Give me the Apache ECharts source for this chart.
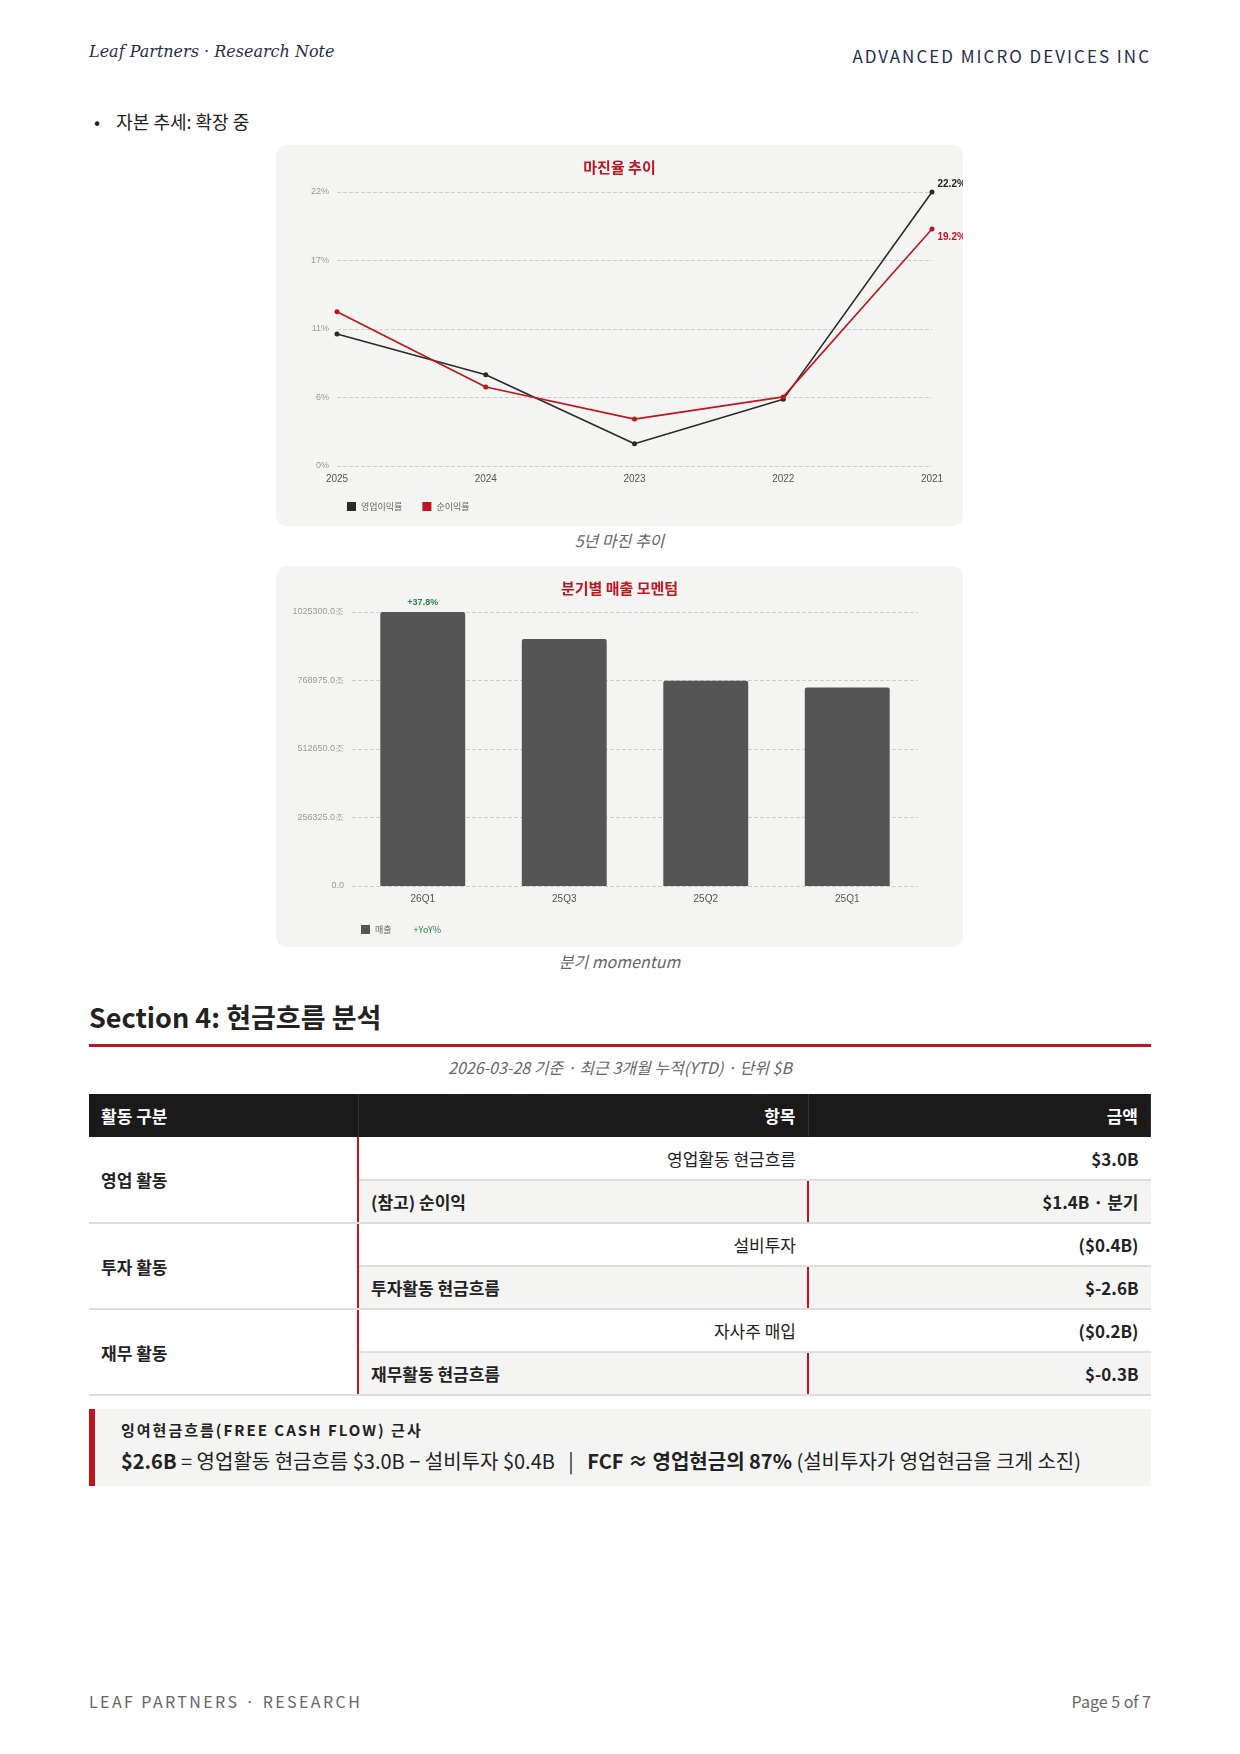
<!DOCTYPE html>
<html><head><meta charset="utf-8">
<script src="https://cdn.jsdelivr.net/npm/echarts@6/dist/echarts.min.js"></script>
<style>
body{margin:0;width:1240px;height:1754px;background:#fff;font-family:"Noto Sans CJK KR","Noto Sans",sans-serif;position:relative;color:#222}
.abs{position:absolute}
.box{position:absolute;left:276px;width:687px;background:#f4f4f2;border-radius:10px}
.cap{position:absolute;left:276px;width:687px;text-align:center;font-style:italic;color:#666;font-size:16px}
table{border-collapse:collapse;width:1062px;font-size:17px}
td,th{height:43px;padding:0 12px;box-sizing:border-box}
th{background:#1a1a1a;color:#fff;font-weight:700;border-right:1px solid #333}
.g{background:#f4f4f2;font-weight:700;border-right:2px solid #c0141e;border-bottom:2px solid #ddd}
.w td{background:#fff;border-bottom:2px solid #ddd}
.s td{background:#f4f4f2;border-bottom:2px solid #ddd}
</style></head><body>
<div class="abs" style="left:89px;top:42px;font-family:'DejaVu Serif',serif;font-style:italic;font-size:16px;color:#1f2d4d">Leaf Partners · Research Note</div>
<div class="abs" style="right:89px;top:43px;font-size:17px;letter-spacing:2px;color:#1f2d4d">ADVANCED MICRO DEVICES INC</div>
<div class="abs" style="left:94px;top:108px;font-size:18px">•&nbsp;&nbsp;&nbsp;&nbsp;자본 추세: 확장 중</div>
<div class="box" style="top:145px;height:381px"><div id="c1" style="width:687px;height:381px"></div></div>
<div class="cap" style="top:528px">5년 마진 추이</div>
<div class="box" style="top:566px;height:381px"><div id="c2" style="width:687px;height:381px"></div></div>
<div class="cap" style="top:949px">분기 momentum</div>
<div class="abs" style="left:89px;top:997px;font-size:27px;font-weight:700">Section 4: 현금흐름 분석</div>
<div class="abs" style="left:89px;top:1044px;width:1062px;height:3px;background:#c0141e"></div>
<div class="abs" style="left:89px;top:1055px;width:1062px;text-align:center;font-style:italic;color:#666;font-size:16px">2026-03-28 기준 · 최근 3개월 누적(YTD) · 단위 $B</div>
<div class="abs" style="left:89px;top:1094px">
<table>
<tr><th style="width:269px;text-align:left">활동 구분</th><th style="width:450px;text-align:right">항목</th><th style="text-align:right">금액</th></tr>
<tr class="w"><td rowspan="2" class="g">영업 활동</td><td style="text-align:right">영업활동 현금흐름</td><td style="text-align:right;font-weight:700">$3.0B</td></tr>
<tr class="s"><td style="font-weight:700;border-right:2px solid #c0141e">(참고) 순이익</td><td style="text-align:right;font-weight:700">$1.4B · 분기</td></tr>
<tr class="w"><td rowspan="2" class="g">투자 활동</td><td style="text-align:right">설비투자</td><td style="text-align:right;font-weight:700">($0.4B)</td></tr>
<tr class="s"><td style="font-weight:700;border-right:2px solid #c0141e">투자활동 현금흐름</td><td style="text-align:right;font-weight:700">$-2.6B</td></tr>
<tr class="w"><td rowspan="2" class="g">재무 활동</td><td style="text-align:right">자사주 매입</td><td style="text-align:right;font-weight:700">($0.2B)</td></tr>
<tr class="s"><td style="font-weight:700;border-right:2px solid #c0141e">재무활동 현금흐름</td><td style="text-align:right;font-weight:700">$-0.3B</td></tr>
</table></div>
<div class="abs" style="left:89px;top:1409px;width:1056px;height:77px;background:#f4f4f2;border-left:6px solid #c0141e">
<div style="position:absolute;left:26px;top:10px;font-size:15px;font-weight:700;letter-spacing:2px">잉여현금흐름(FREE CASH FLOW) 근사</div>
<div style="position:absolute;left:26px;top:37px;font-size:20px"><b>$2.6B</b> = 영업활동 현금흐름 $3.0B − 설비투자 $0.4B &nbsp;&nbsp;|&nbsp;&nbsp; <b>FCF ≈ 영업현금의 87%</b> (설비투자가 영업현금을 크게 소진)</div></div>
<div class="abs" style="left:89px;top:1689px;font-size:16px;letter-spacing:2.4px;color:#666">LEAF PARTNERS · RESEARCH</div>
<div class="abs" style="right:89px;top:1689px;font-size:16px;color:#666">Page 5 of 7</div>
<script>
const years=['2025','2024','2023','2022','2021'];
const opMargin=[10.7,7.4,1.8,5.4,22.2];
const netMargin=[12.5,6.4,3.8,5.6,19.2];
const quarters=['26Q1','25Q3','25Q2','25Q1'];
const revenue=[1025300,924600,768000,743200];
const yoyLabel='+37.8%';
const F='"Noto Sans CJK KR",sans-serif';
const c1=echarts.init(document.getElementById('c1'));
c1.setOption({
 title:{text:'마진율 추이',left:'center',top:10,textStyle:{color:'#c0141e',fontSize:15,fontWeight:'bold',fontFamily:F}},
 grid:{left:61,right:31,top:47,bottom:60},
 legend:{left:66,bottom:10,itemWidth:9,itemHeight:9,itemGap:20,icon:'rect',textStyle:{fontSize:9,color:'#666',fontFamily:F},data:['영업이익률','순이익률']},
 xAxis:{type:'category',data:years,boundaryGap:false,axisLine:{show:false},axisTick:{show:false},axisLabel:{color:'#555',fontSize:10}},
 yAxis:{type:'value',min:0,max:22.2,interval:5.55,axisLabel:{color:'#999',fontSize:9,formatter:v=>Math.round(v)+'%'},splitLine:{lineStyle:{type:'dashed',color:'#ccc'}}},
 series:[
  {name:'영업이익률',type:'line',data:opMargin,color:'#2a2a2a',symbol:'circle',symbolSize:5,lineStyle:{width:1.6},
   label:{show:true,formatter:p=>p.dataIndex===4?p.value.toFixed(1)+'%':'',position:'right',offset:[-2,-8],fontSize:10,fontWeight:'bold',color:'#222'}},
  {name:'순이익률',type:'line',data:netMargin,color:'#c0141e',symbol:'circle',symbolSize:5,lineStyle:{width:1.6},
   label:{show:true,formatter:p=>p.dataIndex===4?p.value.toFixed(1)+'%':'',position:'right',offset:[-2,8],fontSize:10,fontWeight:'bold',color:'#c0141e'}}]
});
const c2=echarts.init(document.getElementById('c2'));
c2.setOption({
 title:{text:'분기별 매출 모멘텀',left:'center',top:10,textStyle:{color:'#c0141e',fontSize:15,fontWeight:'bold',fontFamily:F}},
 grid:{left:76,right:45,top:46,bottom:61},
 legend:{left:80,bottom:8,itemWidth:9,itemHeight:9,icon:'rect',textStyle:{fontSize:9,color:'#666',fontFamily:F},data:['매출',{name:'+YoY%',icon:'none',textStyle:{color:'#2e7d4f'}}]},
 xAxis:{type:'category',data:quarters,axisLine:{show:false},axisTick:{show:false},axisLabel:{color:'#555',fontSize:10}},
 yAxis:{type:'value',min:0,max:1025300,interval:256325,axisLabel:{color:'#999',fontSize:9,formatter:v=>v===0?'0.0':v.toFixed(1)+'조'},splitLine:{lineStyle:{type:'dashed',color:'#ccc'}}},
 series:[{name:'매출',type:'bar',data:revenue,barWidth:'60%',color:'#555',itemStyle:{borderRadius:[2,2,0,0]},
   label:{show:true,position:'top',formatter:p=>p.dataIndex===0?yoyLabel:'',color:'#2e7d4f',fontSize:9,fontWeight:'bold'}},
  {name:'+YoY%',type:'line',data:[],color:'#2e7d4f'}]
});
</script>
</body></html>
